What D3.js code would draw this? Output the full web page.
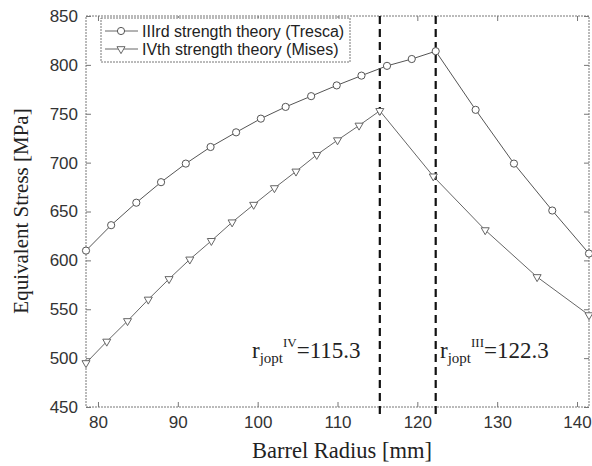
<!DOCTYPE html>
<html>
<head>
<meta charset="utf-8">
<script src="https://cdn.jsdelivr.net/npm/d3@7"></script>
<style>
  body { margin: 0; background: #fff; }
  svg { display: block; }
  .tick text { font-family: "Liberation Sans", Arial, sans-serif; font-size: 17px; fill: #333; }
</style>
</head>
<body>
<script>
// values
var xTicks = [80, 90, 100, 110, 120, 130, 140],
    yTicks = [450, 500, 550, 600, 650, 700, 750, 800, 850];

var trescaR = [78.5, 81.65, 84.8, 87.9, 91.0, 94.1, 97.3, 100.4, 103.5, 106.7, 109.9, 113.0, 116.2, 119.3, 122.3, 127.3, 132.1, 136.9, 141.5],
    trescaS = [610, 636, 659, 680, 699, 716, 731, 745, 757, 768, 779, 789, 799, 806, 814, 754, 699, 651, 607];

var misesR = [78.5, 81.1, 83.7, 86.3, 88.9, 91.5, 94.2, 96.8, 99.5, 102.1, 104.8, 107.4, 110.0, 112.7, 115.3, 122.0, 128.5, 135.0, 141.5],
    misesS = [495, 517, 538, 560, 581, 601, 620, 639, 657, 674, 691, 708, 723, 738, 753, 686, 631, 583, 544];

var optR = [115.3, 122.3],
    optLabels = ["IV", "III"];

var seriesNames = ["IIIrd strength theory (Tresca)", "IVth strength theory (Mises)"];

var w = 592,
    h = 466,
    m = {left: 86, right: 3, top: 16, bottom: 59};

var svg = d3.select("body").append("svg")
    .attr("width", w)
    .attr("height", h);

var x = d3.scaleLinear().domain([78.5, 141.5]).range([m.left, w - m.right]);
var y = d3.scaleLinear().domain([450, 850]).range([h - m.bottom, m.top]);

var line = d3.line()
    .x(function(d) { return x(d[0]); })
    .y(function(d) { return y(d[1]); });

var tresca = d3.zip(trescaR, trescaS),
    mises = d3.zip(misesR, misesS);

// axes, ticks pointing inward, on all four sides (matlab style)
svg.append("g")
    .attr("transform", "translate(0," + y.range()[0] + ")")
    .call(d3.axisBottom(x).tickValues(xTicks).tickSizeInner(-5).tickSizeOuter(0).tickPadding(9))
    .call(function(g) { g.select(".domain").remove(); });

svg.append("g")
    .attr("transform", "translate(0," + y.range()[1] + ")")
    .call(d3.axisTop(x).tickValues(xTicks).tickSizeInner(-5).tickSizeOuter(0).tickFormat(""))
    .call(function(g) { g.select(".domain").remove(); });

svg.append("g")
    .attr("transform", "translate(" + x.range()[0] + ",0)")
    .call(d3.axisLeft(y).tickValues(yTicks).tickSizeInner(-5).tickSizeOuter(0).tickPadding(8))
    .call(function(g) { g.select(".domain").remove(); });

svg.append("g")
    .attr("transform", "translate(" + x.range()[1] + ",0)")
    .call(d3.axisRight(y).tickValues(yTicks).tickSizeInner(-5).tickSizeOuter(0).tickFormat(""))
    .call(function(g) { g.select(".domain").remove(); });

svg.selectAll(".tick line").attr("stroke", "#777");

svg.append("rect")
    .attr("x", x.range()[0])
    .attr("y", y.range()[1])
    .attr("width", x.range()[1] - x.range()[0])
    .attr("height", y.range()[0] - y.range()[1])
    .attr("fill", "none")
    .attr("stroke", "#777")
    .attr("stroke-dasharray", "2,1");

// optimum radius markers
svg.append("g").selectAll("line")
    .data(optR)
  .enter().append("line")
    .attr("x1", function(d) { return x(d); })
    .attr("x2", function(d) { return x(d); })
    .attr("y1", y.range()[1])
    .attr("y2", y.range()[0] + 12)
    .attr("stroke", "#111")
    .attr("stroke-width", 2.2)
    .attr("stroke-dasharray", "8,5");

// curves
svg.append("path").datum(tresca)
    .attr("d", line)
    .attr("fill", "none")
    .attr("stroke", "#555")
    .attr("stroke-width", 1);

svg.append("path").datum(mises)
    .attr("d", line)
    .attr("fill", "none")
    .attr("stroke", "#666")
    .attr("stroke-width", 1);

var tri = d3.symbol().type(d3.symbolTriangle).size(28);

svg.append("g").selectAll("circle")
    .data(tresca)
  .enter().append("circle")
    .attr("cx", function(d) { return x(d[0]); })
    .attr("cy", function(d) { return y(d[1]); })
    .attr("r", 3.6)
    .attr("fill", "#fff")
    .attr("stroke", "#555");

svg.append("g").selectAll("path")
    .data(mises)
  .enter().append("path")
    .attr("d", tri)
    .attr("transform", function(d) { return "translate(" + x(d[0]) + "," + y(d[1]) + ") rotate(180)"; })
    .attr("fill", "#fff")
    .attr("stroke", "#666");

// annotations r_jopt
var ann = svg.append("g").selectAll("text")
    .data(optR)
  .enter().append("text")
    .attr("x", function(d, i) { return i == 0 ? 252 : 440; })
    .attr("y", 358)
    .attr("font-family", "'Liberation Serif', 'Times New Roman', serif")
    .attr("font-size", 23)
    .attr("fill", "#222");

ann.append("tspan").text("r");
ann.append("tspan").attr("font-size", 15).attr("dy", 5).text("jopt");
ann.append("tspan").attr("font-size", 13).attr("dy", -16).text(function(d, i) { return optLabels[i]; });
ann.append("tspan").attr("dy", 11).text(function(d) { return "=" + d; });

// axis titles
svg.append("text")
    .attr("x", 342)
    .attr("y", 458)
    .attr("text-anchor", "middle")
    .attr("font-family", "'Liberation Serif', 'Times New Roman', serif")
    .attr("font-size", 22.5)
    .attr("fill", "#222")
    .text("Barrel Radius [mm]");

svg.append("text")
    .attr("transform", "translate(28,211) rotate(-90)")
    .attr("text-anchor", "middle")
    .attr("font-family", "'Liberation Serif', 'Times New Roman', serif")
    .attr("font-size", 21)
    .attr("fill", "#222")
    .text("Equivalent Stress [MPa]");

// legend
var lg = svg.append("g");
lg.append("rect")
    .attr("x", 101).attr("y", 18)
    .attr("width", 249).attr("height", 44)
    .attr("fill", "#fff")
    .attr("stroke", "#777")
    .attr("stroke-dasharray", "2,1");

var rows = lg.selectAll("g.row")
    .data(seriesNames)
  .enter().append("g")
    .attr("class", "row")
    .attr("transform", function(d, i) { return "translate(0," + (31 + i * 18) + ")"; });

rows.append("line")
    .attr("x1", 105).attr("x2", 138)
    .attr("stroke", "#666");

rows.filter(function(d, i) { return i == 0; }).append("circle")
    .attr("cx", 121).attr("r", 3.6)
    .attr("fill", "#fff").attr("stroke", "#555");

rows.filter(function(d, i) { return i == 1; }).append("path")
    .attr("d", tri)
    .attr("transform", "translate(121,0) rotate(180)")
    .attr("fill", "#fff").attr("stroke", "#666");

rows.append("text")
    .attr("x", 142)
    .attr("dy", "0.36em")
    .attr("font-family", "'Liberation Sans', Arial, sans-serif")
    .attr("font-size", 16)
    .attr("fill", "#222")
    .text(function(d) { return d; });
</script>
</body>
</html>
